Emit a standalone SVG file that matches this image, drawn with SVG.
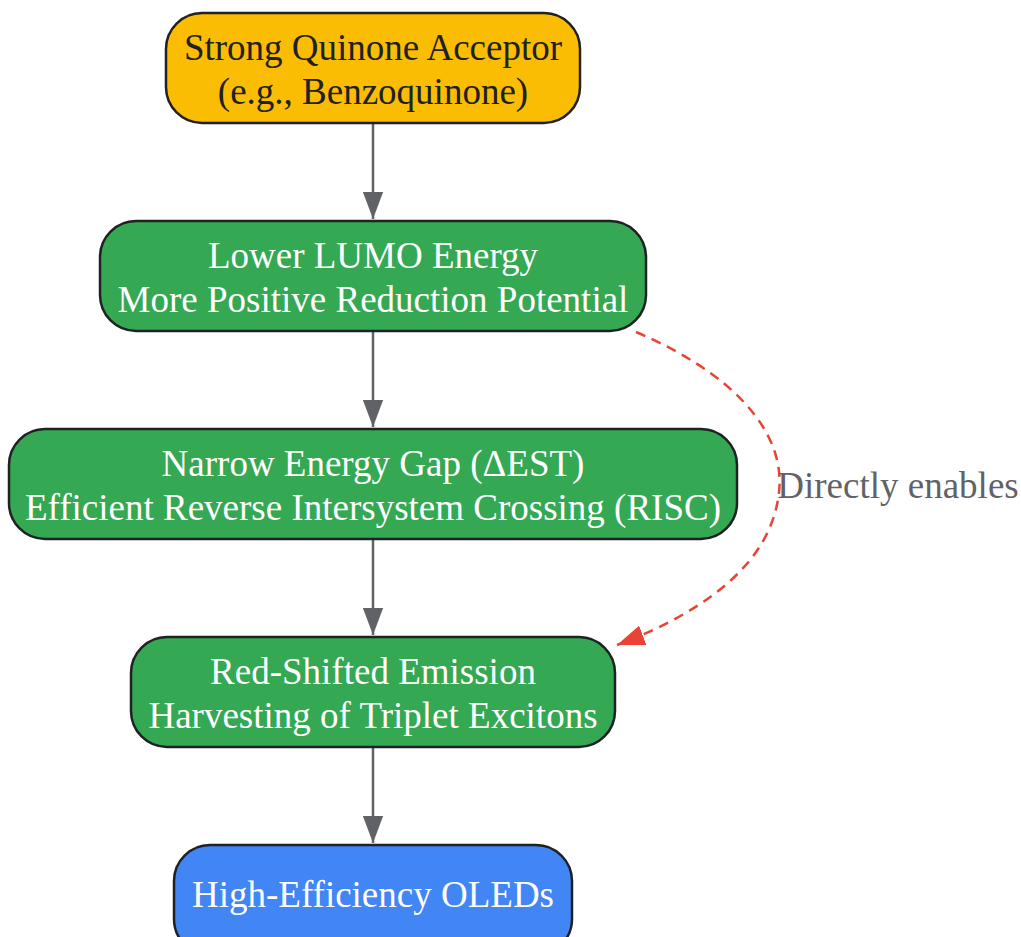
<svg xmlns="http://www.w3.org/2000/svg" width="1021" height="937" viewBox="0 0 1021 937">
<style>
.node rect{stroke:#202124;stroke-width:2.5}
.t{font-family:"Liberation Serif",serif;font-size:37px;text-anchor:middle}
.w{fill:#ffffff}
.d{fill:#202124}
.e{stroke:#5F6368;stroke-width:2.5;fill:none}
.r{stroke:#EA4335;stroke-width:2.5;fill:none;stroke-dasharray:10,7}
</style>
<defs>
<marker id="ag" viewBox="0 0 12 9" refX="12" refY="4.5" markerWidth="11" markerHeight="8.25" markerUnits="strokeWidth" orient="auto"><path d="M0,0L12,4.5L0,9z" fill="#5F6368"/></marker>
<marker id="ar" viewBox="0 0 12 9" refX="12" refY="4.5" markerWidth="11" markerHeight="8.25" markerUnits="strokeWidth" orient="auto"><path d="M0,0L12,4.5L0,9z" fill="#EA4335"/></marker>
</defs>
<rect width="1021" height="937" fill="#ffffff"/>
<g id="connectors">
<path class="e" d="M373,123V219" marker-end="url(#ag)"/>
<path class="e" d="M373,331V427" marker-end="url(#ag)"/>
<path class="e" d="M373,539V635" marker-end="url(#ag)"/>
<path class="e" d="M373,747V843" marker-end="url(#ag)"/>
<path class="r" d="M636,332C730,372 786,430 779,492C772,560 710,610 617,645" marker-end="url(#ar)"/>
<text class="t" x="898" y="498" fill="#5F6368">Directly enables</text>
</g>
<g id="n1" class="node"><rect x="166" y="13" width="414" height="110" rx="36" fill="#FBBC04"/><text class="t d" x="373" y="60">Strong Quinone Acceptor</text><text class="t d" x="373" y="104">(e.g., Benzoquinone)</text></g>
<g id="n2" class="node"><rect x="100" y="221" width="546" height="110" rx="36" fill="#34A853"/><text class="t w" x="373" y="268">Lower LUMO Energy</text><text class="t w" x="373" y="312">More Positive Reduction Potential</text></g>
<g id="n3" class="node"><rect x="9" y="429" width="728" height="110" rx="36" fill="#34A853"/><text class="t w" x="373" y="476">Narrow Energy Gap (ΔEST)</text><text class="t w" x="373" y="520">Efficient Reverse Intersystem Crossing (RISC)</text></g>
<g id="n4" class="node"><rect x="131" y="637" width="484" height="110" rx="36" fill="#34A853"/><text class="t w" x="373" y="684">Red-Shifted Emission</text><text class="t w" x="373" y="728">Harvesting of Triplet Excitons</text></g>
<g id="n5" class="node"><rect x="174" y="845" width="398" height="110" rx="36" fill="#4285F4"/><text class="t w" x="373" y="907">High-Efficiency OLEDs</text></g>
</svg>
